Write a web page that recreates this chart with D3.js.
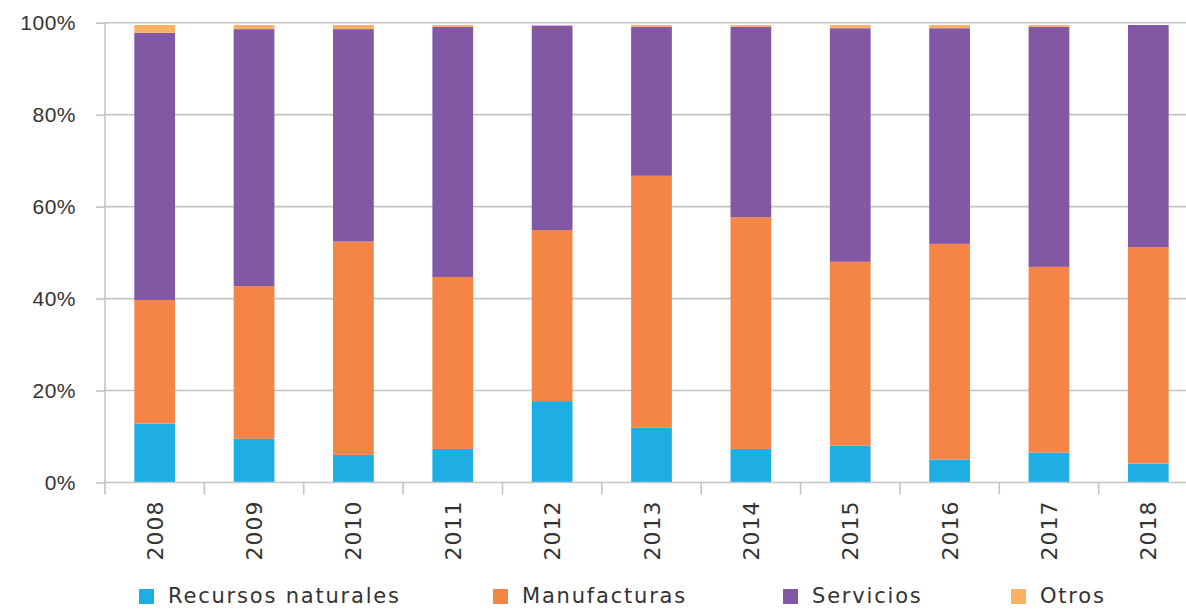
<!DOCTYPE html>
<html>
<head>
<meta charset="utf-8">
<script src="https://cdn.jsdelivr.net/npm/d3@7"></script>
<style>
  html, body { margin: 0; padding: 0; background: #ffffff; }
  svg { display: block; font-family: "DejaVu Sans", sans-serif; }
</style>
</head>
<body>
<svg id="chart" width="1186" height="609"></svg>
<script>
// Sector shares of the total, by year (percent)
const years = ["2008", "2009", "2010", "2011", "2012", "2013", "2014", "2015", "2016", "2017", "2018"];
const recursosNaturales = [12.8, 9.5, 6.0, 7.3, 17.7, 11.9, 7.3, 8.0, 5.0, 6.5, 4.1];
const manufacturas      = [26.9, 33.2, 46.4, 37.4, 37.2, 54.8, 50.4, 40.0, 46.9, 40.4, 47.1];
const servicios         = [58.1, 55.9, 46.2, 54.4, 44.4, 32.4, 41.4, 50.8, 46.9, 52.2, 48.3];
const otros             = [1.7, 0.9, 0.9, 0.4, 0.2, 0.4, 0.4, 0.7, 0.7, 0.4, 0.0];

const seriesNames = ["Recursos naturales", "Manufacturas", "Servicios", "Otros"];
const seriesColors = ["#1faee3", "#f58447", "#8257a4", "#fbb063"];
const yTicks = [0, 20, 40, 60, 80, 100];

const rows = years.map((y, i) => ({
  year: y,
  "Recursos naturales": recursosNaturales[i],
  "Manufacturas": manufacturas[i],
  "Servicios": servicios[i],
  "Otros": otros[i]
}));

const svg = d3.select("#chart");
const plotLeft = 105, plotRight = 1198, plotTop = 22.7, plotBottom = 482.5;
const textColor = "#333333";
const gridColor = "#c4c4c4";

const x = d3.scaleBand().domain(years).range([plotLeft, plotRight]).paddingInner(0.59).paddingOuter(0.295);
const xOuter = d3.scaleBand().domain(years).range([plotLeft, plotRight]);
const y = d3.scaleLinear().domain([0, 100]).range([plotBottom, plotTop]);

// horizontal gridlines
svg.append("g")
  .selectAll("line")
  .data(yTicks.filter(t => t > 0))
  .join("line")
  .attr("x1", plotLeft).attr("x2", 1186)
  .attr("y1", d => y(d)).attr("y2", d => y(d))
  .attr("stroke", gridColor).attr("stroke-width", 1.6);

// stacked bars
const stack = d3.stack().keys(seriesNames);
const stacked = stack(rows);
svg.append("g")
  .selectAll("g")
  .data(stacked)
  .join("g")
  .attr("fill", (d, i) => seriesColors[i])
  .selectAll("rect")
  .data(d => d)
  .join("rect")
  .attr("x", d => x(d.data.year))
  .attr("width", x.bandwidth())
  .attr("y", d => y(d[1]))
  .attr("height", d => Math.max(0, y(d[0]) - y(d[1])));

// y axis
const yAxis = d3.axisLeft(y).tickValues(yTicks).tickFormat(d => d + "%").tickSize(9).tickPadding(20);
const gy = svg.append("g").attr("transform", `translate(${plotLeft},0)`).call(yAxis);
gy.select(".domain").remove();
gy.append("line").attr("x1", 0).attr("x2", 0).attr("y1", plotTop).attr("y2", plotBottom + 12)
  .attr("stroke", gridColor).attr("stroke-width", 1.6);
gy.selectAll(".tick line").attr("stroke", gridColor).attr("stroke-width", 1.6);
gy.selectAll(".tick text")
  .attr("fill", textColor)
  .style("font-size", "21px")
  .style("letter-spacing", "0.5px");

// x axis baseline, category separators and rotated year labels
const gx = svg.append("g");
gx.append("line").attr("x1", plotLeft).attr("x2", 1186).attr("y1", plotBottom).attr("y2", plotBottom)
  .attr("stroke", gridColor).attr("stroke-width", 1.6);
gx.selectAll("line.sep")
  .data(years.slice(1))
  .join("line")
  .attr("class", "sep")
  .attr("x1", d => xOuter(d)).attr("x2", d => xOuter(d))
  .attr("y1", plotBottom).attr("y2", plotBottom + 12)
  .attr("stroke", gridColor).attr("stroke-width", 1.6);
gx.selectAll("text")
  .data(years)
  .join("text")
  .attr("transform", d => `translate(${x(d) + x.bandwidth() / 2 + 8},${plotBottom + 18}) rotate(-90)`)
  .attr("text-anchor", "end")
  .attr("fill", textColor)
  .style("font-size", "22px")
  .style("letter-spacing", "1px")
  .text(d => d);

// legend
const legendX = [139, 493, 783, 1011];
const legend = svg.append("g").selectAll("g")
  .data(seriesNames)
  .join("g")
  .attr("transform", (d, i) => `translate(${legendX[i]},589)`);
legend.append("rect").attr("width", 15).attr("height", 15).attr("fill", (d, i) => seriesColors[i]);
legend.append("text")
  .attr("x", 29).attr("y", 14)
  .attr("fill", textColor)
  .style("font-size", "21px")
  .style("letter-spacing", "1.8px")
  .text(d => d);
</script>
</body>
</html>
